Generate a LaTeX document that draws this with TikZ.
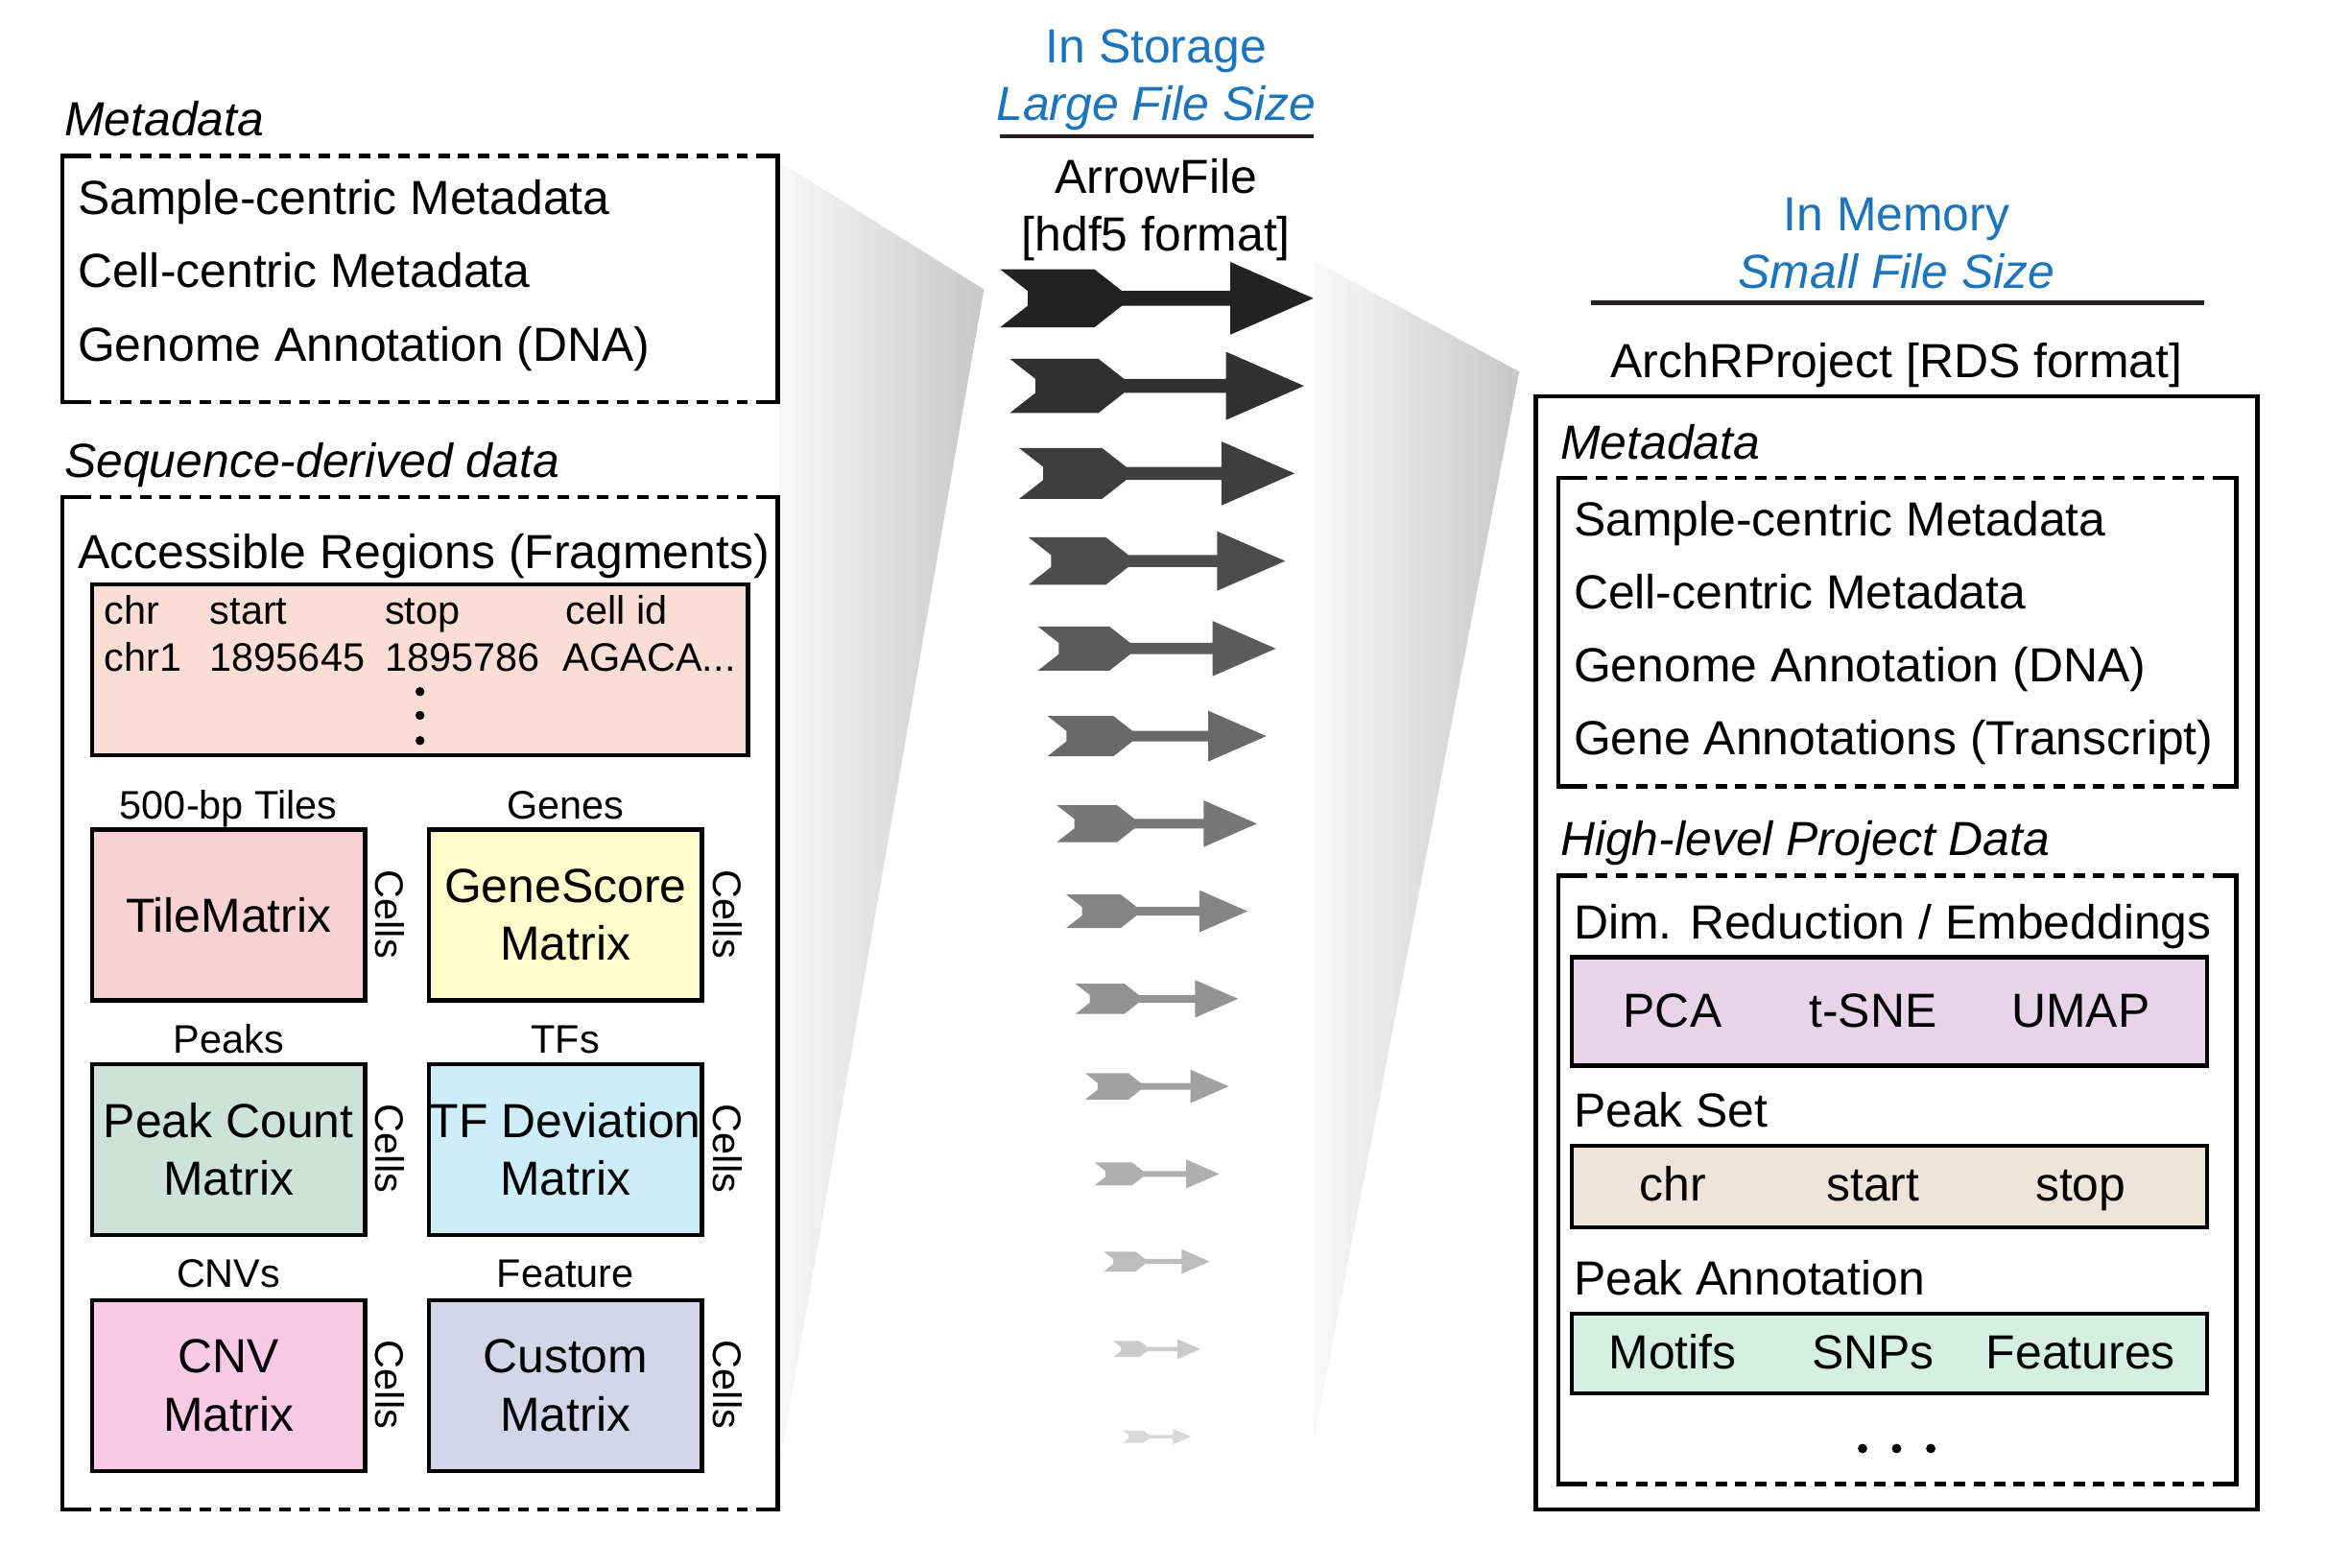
\documentclass[tikz,border=0pt]{standalone}
\usepackage{fontspec}
\setmainfont{Liberation Sans}
\definecolor{blueT}{RGB}{28,117,188}
\definecolor{rulec}{RGB}{35,31,32}
\definecolor{cFrag}{RGB}{250,221,212}
\definecolor{cTile}{RGB}{248,210,210}
\definecolor{cGene}{RGB}{254,251,203}
\definecolor{cPeak}{RGB}{205,226,217}
\definecolor{cTF}{RGB}{205,238,249}
\definecolor{cCNV}{RGB}{248,202,229}
\definecolor{cCust}{RGB}{213,213,234}
\definecolor{cPCA}{RGB}{232,212,233}
\definecolor{cSet}{RGB}{238,228,218}
\definecolor{cAnno}{RGB}{213,240,227}
\definecolor{fanL}{RGB}{249,249,249}
\definecolor{fanR}{RGB}{199,199,199}
\newcommand\pxu{0.015466cm}
\newcommand\bigf{\fontsize{14.2}{17.2}\selectfont}
\newcommand\smallf{\fontsize{11.8}{14}\selectfont}
\newcommand\mydbox[4]{%
  \draw[boxline] (#1+12,#2) -- (#1,#2) -- (#1,#4) -- (#1+12,#4);
  \draw[boxline] (#3-12,#2) -- (#3,#2) -- (#3,#4) -- (#3-12,#4);
  \draw[dashline] (#1+12,#2) -- (#3-12,#2);
  \draw[dashline] (#1+12,#4) -- (#3-12,#4);}
\tikzset{
  boxline/.style={line width=1.3pt, black},
  dashline/.style={line width=1.3pt, black, dash pattern=on 3.4pt off 2.5pt},
  tl/.style={inner sep=0pt, anchor=base west, yshift=-5pt, font=\bigf},
  tli/.style={tl, font=\bigf\itshape},
  tc/.style={inner sep=0pt, anchor=base, yshift=-5pt, font=\bigf},
  sc/.style={inner sep=0pt, anchor=base, yshift=-4.2pt, font=\smallf},
  sl/.style={inner sep=0pt, anchor=base west, yshift=-4.2pt, font=\smallf},
  cellsl/.style={inner sep=0pt, font=\smallf, rotate=-90},
  cbox/.style={draw, line width=1.2pt, inner sep=0pt, align=center, font=\bigf},
  mbox/.style={cbox, minimum width=184*\pxu, minimum height=115*\pxu},
  rbox/.style={cbox, minimum width=428*\pxu},
  rulel/.style={line width=1.2pt, rulec},
}
\begin{document}
\begin{tikzpicture}[x=0.015466cm, y=-0.015466cm]
\useasboundingbox (0,0) rectangle (1568,1056);

% funnels
\shade[left color=fanL, right color=fanR] (525,109) -- (663,195) -- (524,995) -- cycle;
\shade[left color=fanL, right color=fanR] (885.4,175.7) -- (1023.7,250.4) -- (885.4,970) -- cycle;

% ===== left column =====
\node[tli] (mdlab) at (43,80) {Metadata};
\mydbox{42}{105}{524}{271}
\node[tl] (l1) at (52,133) {Sample-centric Metadata};
\node[tl] (l2) at (52,182) {Cell-centric Metadata};
\node[tl] (l3) at (52,232) {Genome Annotation (DNA)};

\node[tli] (seqlab) at (43,310) {Sequence-derived data};
\mydbox{42}{335}{524}{1017}
\node[tl] (acc) at (52,372) {Accessible Regions (Fragments)};
\node[cbox, fill=cFrag, minimum width=442*\pxu, minimum height=115*\pxu] (frag) at (283,451.5) {};
\node[sl] (h1) at (70,411) {chr};
\node[sl] (h2) at (141,411) {start};
\node[sl] (h3) at (259,411) {stop};
\node[sl] (h4) at (381,411) {cell id};
\node[sl] (r1) at (70,443) {chr1};
\node[sl] (r2) at (141,443) {1895645};
\node[sl] (r3) at (259,443) {1895786};
\node[sl] (r4) at (379,443) {AGACA...};
\foreach \yy in {466,482,499} \fill (283,\yy) circle[radius=1.35pt];

\node[sc] (lt1) at (154,542) {500-bp Tiles};
\node[sc] (lt2) at (381,542) {Genes};
\node[mbox, fill=cTile] (tile) at (154,616.5) {TileMatrix};
\node[mbox, fill=cGene] (gene) at (381,616.5) {GeneScore\\Matrix};
\node[cellsl] (c1) at (263,616) {Cells};
\node[cellsl] (c2) at (490,616) {Cells};

\node[sc] (lt3) at (154,700) {Peaks};
\node[sc] (lt4) at (381,700) {TFs};
\node[mbox, fill=cPeak] (peak) at (154,774.5) {Peak Count\\Matrix};
\node[mbox, fill=cTF] (tf) at (381,774.5) {TF Deviation\\Matrix};
\node[cellsl] (c3) at (263,774) {Cells};
\node[cellsl] (c4) at (490,774) {Cells};

\node[sc] (lt5) at (154,858) {CNVs};
\node[sc] (lt6) at (381,858) {Feature};
\node[mbox, fill=cCNV] (cnv) at (154,933.5) {CNV\\Matrix};
\node[mbox, fill=cCust] (cust) at (381,933.5) {Custom\\Matrix};
\node[cellsl] (c5) at (263,933) {Cells};
\node[cellsl] (c6) at (490,933) {Cells};

% ===== middle =====
\node[tc, text=blueT] (stor) at (779,31) {In Storage};
\node[tc, text=blueT, font=\bigf\itshape] (large) at (779,70) {Large File Size};
\draw[rulel] (674,92) -- (885,92);
\node[tc] (af) at (779,119) {ArrowFile};
\node[tc] (hdf) at (779,158) {[hdf5 format]};

\foreach \i in {0,...,13}{
  \pgfmathsetmacro\s{(211-12.69*\i)/211}
  \pgfmathsetmacro\cy{201+59*\i}
  \pgfmathsetmacro\pct{86.5-5.5*\i}
  \fill[black!\pct, shift={(779.5,\cy)}, scale=\s]
    (-105.5,-19.5) -- (-42,-19.5) -- (-23.5,-5) -- (49.5,-5) -- (49.5,-24.5)
    -- (105.5,0) -- (49.5,24.5) -- (49.5,5) -- (-23.5,5) -- (-42,19.5)
    -- (-105.5,19.5) -- (-87,5) -- (-87,-5) -- cycle;
}

% ===== right column =====
\node[tc, text=blueT] (mem) at (1278,144) {In Memory};
\node[tc, text=blueT, font=\bigf\itshape] (smallfs) at (1278,183) {Small File Size};
\draw[rulel] (1072,204) -- (1485,204);
\node[tc] (archr) at (1278,243) {ArchRProject [RDS format]};
\draw[boxline] (1035,267) rectangle (1521,1017);

\node[tli] (rmd) at (1051,298) {Metadata};
\mydbox{1050}{322}{1507}{530}
\node[tl] (m1) at (1060,350) {Sample-centric Metadata};
\node[tl] (m2) at (1060,399) {Cell-centric Metadata};
\node[tl] (m3) at (1060,448) {Genome Annotation (DNA)};
\node[tl] (m4) at (1060,497) {Gene Annotations (Transcript)};

\node[tli] (hl) at (1051,565) {High-level Project Data};
\mydbox{1050}{590}{1507}{1000}
\node[tl] (dim) at (1060,621) {Dim. Reduction / Embeddings};
\node[rbox, fill=cPCA, minimum height=73*\pxu] (pcabox) at (1273,681.5) {};
\node[tc] (pca) at (1127,681) {PCA};
\node[tc] (tsne) at (1262,681) {t-SNE};
\node[tc] (umap) at (1402,681) {UMAP};

\node[tl] (ps) at (1060,748) {Peak Set};
\node[rbox, fill=cSet, minimum height=55*\pxu] (setbox) at (1273,799.5) {};
\node[tc] (pchr) at (1127,798) {chr};
\node[tc] (pstart) at (1262,798) {start};
\node[tc] (pstop) at (1402,798) {stop};

\node[tl] (pa) at (1060,861) {Peak Annotation};
\node[rbox, fill=cAnno, minimum height=54*\pxu] (annobox) at (1273,912) {};
\node[tc] (mot) at (1127,911) {Motifs};
\node[tc] (snp) at (1262,911) {SNPs};
\node[tc] (feat) at (1402,911) {Features};
\foreach \xx in {1255,1278,1301} \fill (\xx,976) circle[radius=1.4pt];
\end{tikzpicture}
\end{document}
